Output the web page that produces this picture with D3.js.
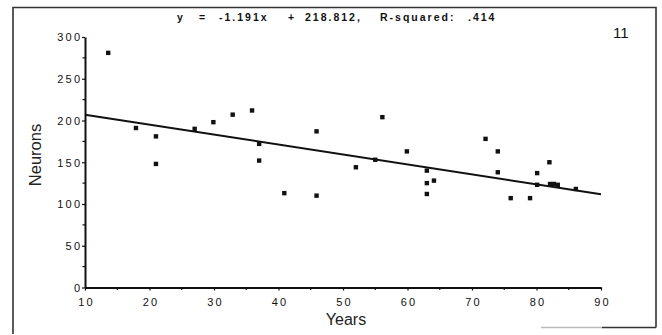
<!DOCTYPE html>
<html>
<head>
<meta charset="utf-8">
<script src="https://cdn.jsdelivr.net/npm/d3@7"></script>
<style>
  html, body { margin: 0; padding: 0; background: #fff; }
  svg { display: block; }
</style>
</head>
<body>
<svg id="chart" width="662" height="335"></svg>
<script>
// Age (years) vs neuron count, with least-squares fit
const years   = [13.6, 17.9, 21.0, 21.0, 27.0, 29.9, 32.9, 35.9, 37.0, 37.0, 40.9, 45.9, 45.9,
                 52.0, 55.0, 56.1, 59.9, 63.0, 63.0, 63.0, 64.1, 72.1, 74.0, 74.0, 76.0, 79.0,
                 80.1, 80.1, 82.0, 82.1, 82.7, 83.3, 86.1];
const neurons = [281, 191, 181, 148, 190, 198, 207, 212, 172, 152, 113, 187, 110,
                 144, 153, 204, 163, 140, 125, 112, 128, 178, 163, 138, 107, 107,
                 137, 123, 150, 124, 124, 123, 118];

const slope = -1.191;
const intercept = 218.812;
const rSquared = ".414";

const xTicks = [10, 20, 30, 40, 50, 60, 70, 80, 90];
const xMinorTicks = [15, 25, 35, 45, 55, 65, 75, 85];
const yTicks = [0, 50, 100, 150, 200, 250, 300];
const yMinorTicks = [25, 75, 125, 175, 225, 275];

const titleTokens = ["y", "=", "-1.191x", "+", "218.812,", "R-squared:", rSquared];
const titleX = [177, 199, 219, 288, 305, 380, 468];

const svg = d3.select("#chart");
const ink = "#111";

const x = d3.scaleLinear().domain([10, 90]).range([85, 601]);
const y = d3.scaleLinear().domain([0, 300]).range([287.5, 37]);

// frame around the figure
const frame = svg.append("g").attr("fill", "none");
frame.append("path").attr("d", "M13,334 L13,7.5 L656,7.5 L656,327.5")
  .attr("stroke", "#333").attr("stroke-width", 1.6);
frame.append("line").attr("x1", 541).attr("x2", 602).attr("y1", 327.5).attr("y2", 327.5)
  .attr("stroke", "#bbb").attr("stroke-width", 1.4);
frame.append("line").attr("x1", 602).attr("x2", 656).attr("y1", 327.5).attr("y2", 327.5)
  .attr("stroke", "#333").attr("stroke-width", 1.6);

// axes
const tickFont = "'Liberation Sans', Arial, sans-serif";

const xAxis = svg.append("g").attr("transform", `translate(0,${y(0)})`)
  .call(d3.axisBottom(x).tickValues(xTicks).tickSize(3).tickSizeOuter(0).tickFormat(d3.format("d")));
const yAxis = svg.append("g").attr("transform", `translate(${x(10)},0)`)
  .call(d3.axisLeft(y).tickValues(yTicks).tickSize(3).tickSizeOuter(0).tickFormat(d3.format("d")));

[xAxis, yAxis].forEach(g => {
  g.select(".domain").attr("stroke", ink).attr("stroke-width", 2);
  g.selectAll(".tick line").attr("stroke", ink).attr("stroke-width", 1.2);
  g.selectAll(".tick text").attr("fill", ink)
    .style("font-family", tickFont).style("font-size", "11px").style("letter-spacing", "2.2px");
});
xAxis.selectAll(".tick text").attr("y", 11).attr("dx", "1.1px");
yAxis.selectAll(".tick text").attr("x", -5).attr("dx", "2.2px").attr("dy", "0.35em");

xAxis.selectAll(".minor").data(xMinorTicks).enter().append("line")
  .attr("x1", d => x(d)).attr("x2", d => x(d)).attr("y1", 0).attr("y2", 2.5)
  .attr("stroke", ink).attr("stroke-width", 1.2);
yAxis.selectAll(".minor").data(yMinorTicks).enter().append("line")
  .attr("y1", d => y(d)).attr("y2", d => y(d)).attr("x1", 0).attr("x2", -2.5)
  .attr("stroke", ink).attr("stroke-width", 1.2);

// fitted line
const fit = d3.line().x(d => x(d)).y(d => y(slope * d + intercept));
svg.append("path").datum(x.domain()).attr("d", fit)
  .attr("fill", "none").attr("stroke", ink).attr("stroke-width", 2);

// observations
const pts = d3.range(years.length);
svg.append("g").selectAll("rect").data(pts).enter().append("rect")
  .attr("x", i => x(years[i]) - 2.2).attr("y", i => y(neurons[i]) - 2.2)
  .attr("width", 4.4).attr("height", 4.4).attr("fill", ink);

// regression title
svg.append("g").selectAll("text").data(titleTokens).enter().append("text")
  .attr("x", (d, i) => titleX[i]).attr("y", 21)
  .style("font-family", tickFont).style("font-size", "10.5px").style("font-weight", "bold")
  .style("letter-spacing", "2px").attr("fill", ink)
  .text(d => d);

// panel number
svg.append("text").attr("x", 613).attr("y", 37.5)
  .style("font-family", "'Liberation Sans Narrow', 'Liberation Sans', sans-serif")
  .style("font-size", "15px").attr("fill", ink).text("11");

// axis titles
svg.append("text").attr("x", 346).attr("y", 325).attr("text-anchor", "middle")
  .style("font-family", tickFont).style("font-size", "16px").attr("fill", "#222").text("Years");
svg.append("text").attr("transform", "translate(41,155) rotate(-90)").attr("text-anchor", "middle")
  .style("font-family", tickFont).style("font-size", "16.5px").attr("fill", "#222").text("Neurons");
</script>
</body>
</html>
